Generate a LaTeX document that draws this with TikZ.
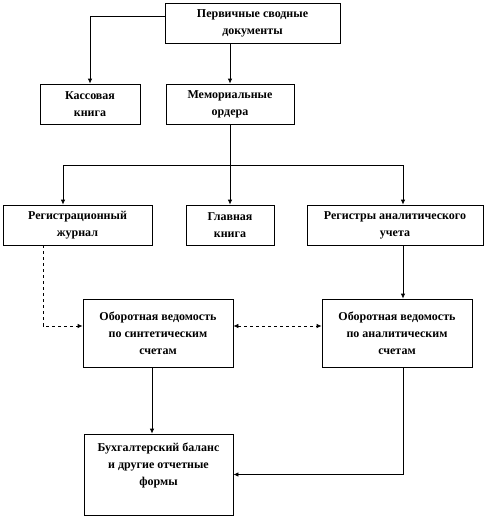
\documentclass[tikz,border=0pt]{standalone}
\usepackage{fontspec}
\setmainfont{Liberation Serif}
\usetikzlibrary{arrows.meta}

\begin{document}
\begin{tikzpicture}[x=1pt, y=-1pt, font=\bfseries\fontsize{12}{17}\selectfont, line width=0.8pt,
  docbox/.style={draw, fill=white, align=center, inner sep=2pt, minimum height=40pt},
  arr/.style={-{Latex[length=5pt,width=4.5pt]}},
  dbl/.style={{Latex[length=5pt,width=4.5pt]}-{Latex[length=5pt,width=4.5pt]}}]
\useasboundingbox (0,0) rectangle (488,519);
% first and second rows
\node[docbox, minimum width=175pt] (perv) at (252.5,23) {Первичные сводные\\документы};
\node[docbox, minimum width=100pt] (kass) at (90,104) {Кассовая\\книга};
\node[docbox, minimum width=128pt] (mem) at (230,104) {Мемориальные\\ордера};
% registers
\node[docbox, minimum width=149pt] (reg) at (77.5,225) {Регистрационный\\журнал};
\node[docbox, minimum width=88pt] (glav) at (230,225) {Главная\\книга};
\node[docbox, minimum width=176pt] (regan) at (395,225) {Регистры аналитического\\учета};
% turnover sheets and balance
\node[docbox, minimum width=150pt, minimum height=68pt] (obs) at (158,333) {Оборотная ведомость\\по синтетическим\\счетам};
\node[docbox, minimum width=150pt, minimum height=68pt] (oba) at (397,333) {Оборотная ведомость\\по аналитическим\\счетам};
\node[docbox, minimum width=149pt, minimum height=81pt] (buh) at (158.5,474.5) {Бухгалтерский баланс\\и другие отчетные\\формы\\[4pt]\mbox{}};
\coordinate (split) at (230,165);

\draw[arr] ([yshift=7pt]perv.west) -| (kass.north);
\draw[arr] (perv.south -| mem.north) -- (mem.north);
\draw (mem.south) -- (split);
\draw[arr] (split) -- (glav.north);
\draw[arr] (split) -| ([xshift=-14.5pt]reg.north);
\draw[arr] (split) -| ([xshift=8pt]regan.north);
\draw[arr] ([xshift=8pt]regan.south) -- ([xshift=8pt]regan.south |- oba.north);
\draw[arr, dashed] ([xshift=-34.5pt]reg.south) |- ([yshift=7pt]obs.west);
\draw[dbl, dashed] ([yshift=7pt]obs.east) -- ([yshift=7pt]oba.west);
\draw[arr] ([xshift=-6pt]obs.south) -- ([xshift=-6pt]obs.south |- buh.north);
\draw[arr] ([xshift=6pt]oba.south) |- (buh.east);
\end{tikzpicture}
\end{document}
